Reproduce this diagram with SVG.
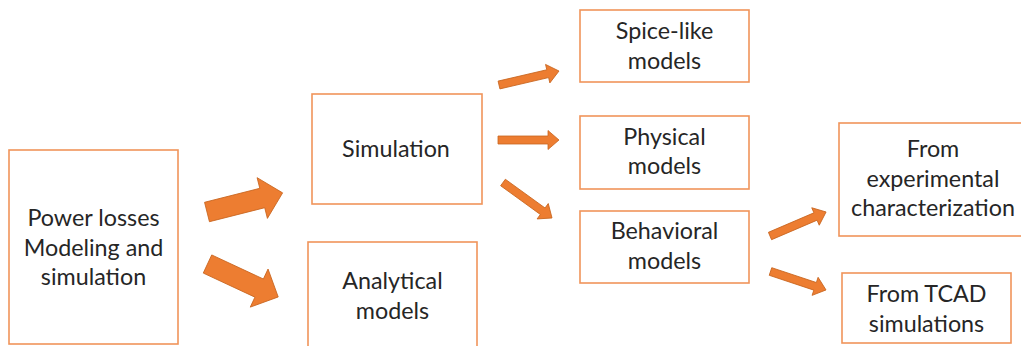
<svg xmlns="http://www.w3.org/2000/svg" width="1021" height="346" viewBox="0 0 1021 346">
  <style>
    .box { fill: #ffffff; stroke: #F0945A; stroke-width: 1.6; }
    .lbl { font-family: Lato, "Open Sans", "Liberation Sans", sans-serif; font-size: 23.3px; fill: #262626; text-anchor: middle; }
    .arw { fill: #ED7D31; stroke: #C8651F; stroke-width: 0.8; stroke-linejoin: miter; }
  </style>
  <defs>
    <!-- block arrows pointing along +x, tail at origin -->
    <path id="bigArrow" d="M0,-10 L57,-10 L57,-21 L78,0 L57,21 L57,10 L0,10 Z"/>
  </defs>
  <rect width="1021" height="346" fill="#ffffff"/>

  <g id="connectors">
    <use href="#bigArrow" class="arw" transform="translate(207,212) rotate(-14.2)"/>
    <use href="#bigArrow" class="arw" transform="translate(207.5,264) rotate(25)"/>
    <path class="arw" d="M0,-4 L50,-4 L50,-9.5 L61.6,0 L50,9.5 L50,4 L0,4 Z" transform="translate(499,85) rotate(-13.1)"/>
    <path class="arw" d="M0,-4 L50,-4 L50,-9.5 L61,0 L50,9.5 L50,4 L0,4 Z" transform="translate(498,140)"/>
    <path class="arw" d="M0,-4 L49,-4 L49,-9.5 L60.5,0 L49,9.5 L49,4 L0,4 Z" transform="translate(503,182.5) rotate(35.9)"/>
    <path class="arw" d="M0,-4 L49.5,-4 L49.5,-9.5 L61,0 L49.5,9.5 L49.5,4 L0,4 Z" transform="translate(770,236) rotate(-23.2)"/>
    <path class="arw" d="M0,-4 L47,-4 L47,-9.5 L58.5,0 L47,9.5 L47,4 L0,4 Z" transform="translate(770.5,271.5) rotate(18.4)"/>
  </g>

  <g id="power-losses">
    <rect class="box" x="9" y="150" width="169" height="194"/>
    <text class="lbl" x="93.5" y="226">Power losses</text>
    <text class="lbl" x="93.5" y="255.5">Modeling and</text>
    <text class="lbl" x="93.5" y="285">simulation</text>
  </g>

  <g id="simulation">
    <rect class="box" x="312" y="94" width="170" height="110"/>
    <text class="lbl" x="396" y="157">Simulation</text>
  </g>

  <g id="analytical">
    <rect class="box" x="308" y="242" width="169" height="120"/>
    <text class="lbl" x="392.5" y="289">Analytical</text>
    <text class="lbl" x="392.5" y="318.5">models</text>
  </g>

  <g id="spice-like">
    <rect class="box" x="580" y="10" width="169" height="72"/>
    <text class="lbl" x="664.5" y="39">Spice-like</text>
    <text class="lbl" x="664.5" y="68.5">models</text>
  </g>

  <g id="physical">
    <rect class="box" x="580" y="116" width="169" height="73"/>
    <text class="lbl" x="664.5" y="144.5">Physical</text>
    <text class="lbl" x="664.5" y="174">models</text>
  </g>

  <g id="behavioral">
    <rect class="box" x="580" y="211" width="169" height="72"/>
    <text class="lbl" x="664.5" y="239">Behavioral</text>
    <text class="lbl" x="664.5" y="268.5">models</text>
  </g>

  <g id="experimental">
    <rect class="box" x="839" y="123" width="189" height="113"/>
    <text class="lbl" x="933" y="157">From</text>
    <text class="lbl" x="933" y="186.5">experimental</text>
    <text class="lbl" x="933" y="216">characterization</text>
  </g>

  <g id="tcad">
    <rect class="box" x="842" y="273" width="169" height="70"/>
    <text class="lbl" x="926.5" y="302">From TCAD</text>
    <text class="lbl" x="926.5" y="331.5">simulations</text>
  </g>
</svg>
